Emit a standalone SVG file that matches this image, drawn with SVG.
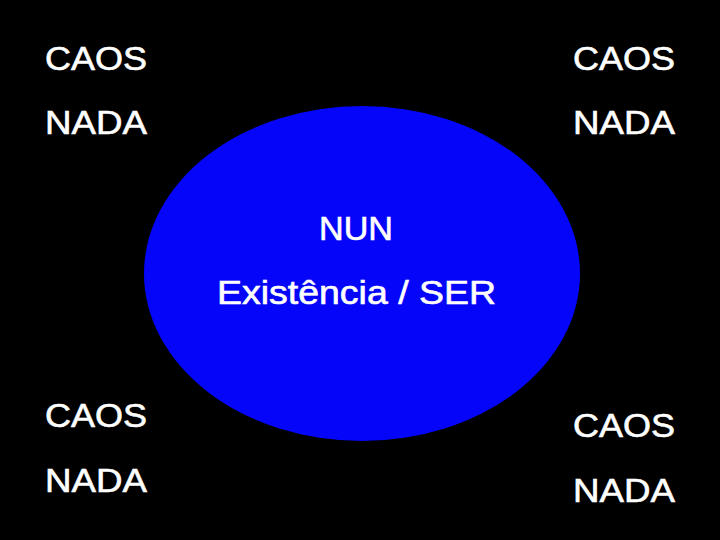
<svg xmlns="http://www.w3.org/2000/svg" width="720" height="540" viewBox="0 0 720 540">
<style>
text{font-family:"Liberation Sans",Arial,sans-serif;fill:#ffffff;font-size:33px;stroke:#ffffff;stroke-width:0.6px}
</style>
<rect x="0" y="0" width="720" height="540" fill="#000000"/>
<g id="ser">
<ellipse cx="362" cy="273.5" rx="218" ry="167.5" fill="#0505fa"/>
<text x="319" y="240" textLength="74" lengthAdjust="spacingAndGlyphs">NUN</text>
<text x="217" y="304" textLength="279" lengthAdjust="spacingAndGlyphs">Existência / SER</text>
</g>
<g id="top-left">
<text x="45" y="70" textLength="102" lengthAdjust="spacingAndGlyphs">CAOS</text>
<text x="45" y="134" textLength="102" lengthAdjust="spacingAndGlyphs">NADA</text>
</g>
<g id="top-right">
<text x="573" y="70" textLength="102" lengthAdjust="spacingAndGlyphs">CAOS</text>
<text x="573" y="134" textLength="102" lengthAdjust="spacingAndGlyphs">NADA</text>
</g>
<g id="bottom-left">
<text x="45" y="427" textLength="102" lengthAdjust="spacingAndGlyphs">CAOS</text>
<text x="45" y="492" textLength="102" lengthAdjust="spacingAndGlyphs">NADA</text>
</g>
<g id="bottom-right">
<text x="573" y="437" textLength="102" lengthAdjust="spacingAndGlyphs">CAOS</text>
<text x="573" y="502" textLength="102" lengthAdjust="spacingAndGlyphs">NADA</text>
</g>
</svg>
